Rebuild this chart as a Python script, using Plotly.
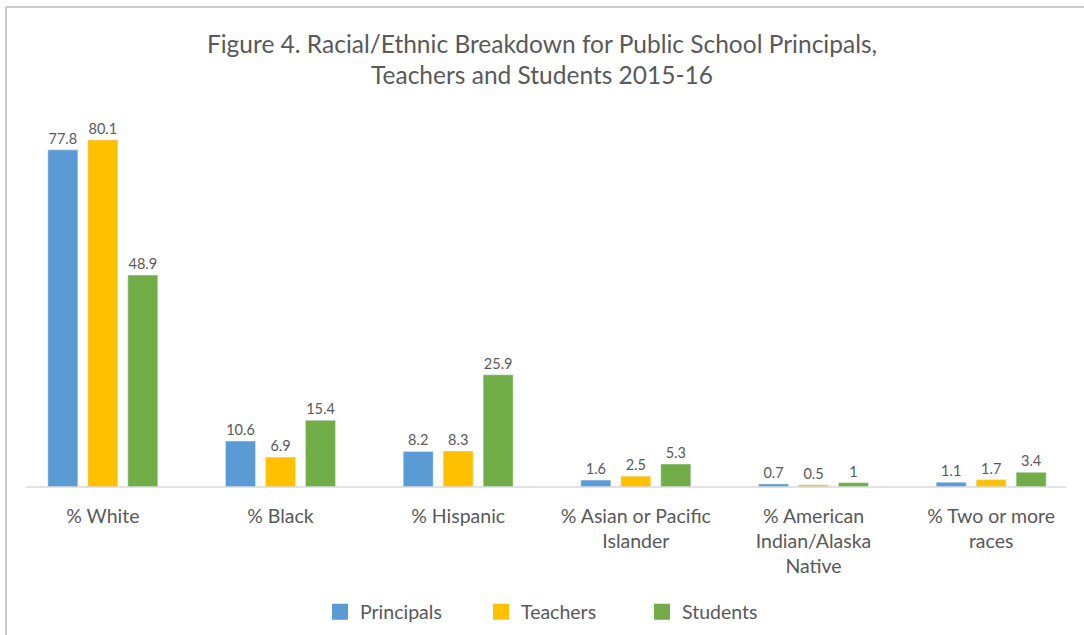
import plotly.graph_objects as go

categories = ["% White", "% Black", "% Hispanic", "% Asian or Pacific<br>Islander",
              "% American<br>Indian/Alaska<br>Native", "% Two or more<br>races"]
principals = [77.8, 10.6, 8.2, 1.6, 0.7, 1.1]
teachers = [80.1, 6.9, 8.3, 2.5, 0.5, 1.7]
students = [48.9, 15.4, 25.9, 5.3, 1, 3.4]

series = [("Principals", principals, "#5B9BD5"),
          ("Teachers", teachers, "#FFC000"),
          ("Students", students, "#70AD47")]

FONT = "Lato"
TXT = "#595959"

fig = go.Figure()
for name, vals, col in series:
    fig.add_trace(go.Bar(
        x=categories, y=vals, name=name, marker_color=col, showlegend=False,
        text=[f"{v:g}" for v in vals], textposition="outside",
        textfont=dict(size=14.5, color=TXT, family=FONT), cliponaxis=False,
    ))
# legend entries with larger square swatches
for name, vals, col in series:
    fig.add_trace(go.Scatter(
        x=[None], y=[None], name=name, mode="markers",
        marker=dict(symbol="square", size=16, color=col),
    ))

W, H = 1084, 635
L, R, T, B = 14, 4, 97, 148
pw = W - L - R
ph = H - T - B

def px_x(x):
    return (x - L) / pw

def px_y(y):
    return (H - B - y) / ph

fig.update_layout(
    width=W, height=H,
    margin=dict(l=L, r=R, t=T, b=B),
    paper_bgcolor="white", plot_bgcolor="white",
    barmode="group", bargap=0.325, bargroupgap=0.25,
    title=dict(text="Figure 4. Racial/Ethnic Breakdown for Public School Principals,<br>Teachers and Students 2015-16",
               x=0.5, xanchor="center", y=1 - 52.5 / H, yanchor="middle",
               font=dict(size=24.5, color=TXT, family=FONT)),
    font=dict(family=FONT, color=TXT),
    showlegend=True,
    legend=dict(orientation="h", x=px_x(320), xanchor="left", y=px_y(612), yanchor="middle",
                font=dict(size=19.5, color=TXT, family=FONT), itemwidth=30,
                entrywidthmode="pixels", entrywidth=116,
                traceorder="normal"),
    xaxis=dict(showgrid=False, showline=False, ticks="", zeroline=False,
               ticklabelstandoff=15,
               tickfont=dict(size=19.5, color=TXT, family=FONT)),
    yaxis=dict(range=[0, 90], visible=False),
    shapes=[
        dict(type="line", xref="paper", yref="paper", x0=px_x(26), x1=px_x(1066),
             y0=0, y1=0, line=dict(color="#D9D9D9", width=1.5)),
        dict(type="line", xref="paper", yref="paper", x0=px_x(6), x1=px_x(1090),
             y0=px_y(7), y1=px_y(7), line=dict(color="#C8C8C8", width=2)),
        dict(type="line", xref="paper", yref="paper", x0=px_x(6), x1=px_x(6),
             y0=px_y(7), y1=px_y(640), line=dict(color="#C8C8C8", width=2)),
    ],
)

fig.write_html("out.html", config={"displayModeBar": False},
               post_script="document.body.style.margin='0';")
